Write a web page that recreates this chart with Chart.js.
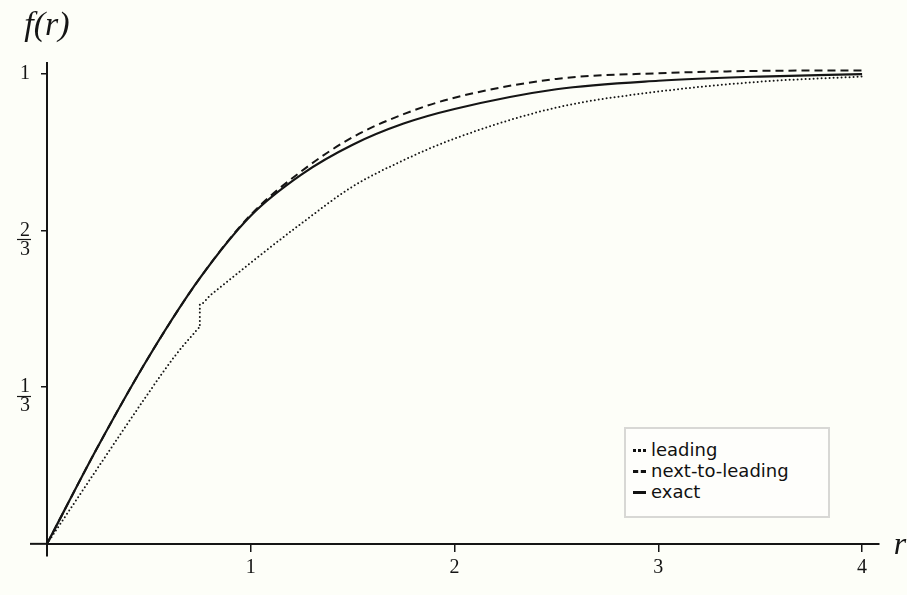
<!DOCTYPE html>
<html lang="en">

<head>
    <meta charset="UTF-8">
    <title>f(r)</title>
    <script src="https://cdn.jsdelivr.net/npm/chart.js@4"></script>
    <style>
        body {
            margin: 0;
            background: #fdfef8;
        }

        #wrap {
            position: relative;
            width: 907px;
            height: 595px;
        }

        #legend {
            position: absolute;
            left: 624px;
            top: 427px;
            width: 195px;
            height: 77px;
            padding: 10px 0 0 7px;
            border: 2px solid #d8d8d5;
            background: #fefefb;
            font-family: "DejaVu Sans";
            font-size: 18px;
            line-height: 21px;
            color: #111;
        }

        .smp {
            display: inline-block;
            width: 13px;
            height: 0;
            border-top: 3px solid #111;
            vertical-align: middle;
            margin-right: 5px;
            position: relative;
            top: -1px;
        }
    </style>
</head>

<body>
    <div id="wrap">
        <canvas id="chart" width="907" height="595"></canvas>
        <div id="legend"></div>
    </div>

    <script>
        // data
        const rLeading = [0, 0.25, 0.5, 0.625, 0.72, 0.75, 0.75, 0.8, 0.9, 1, 1.25, 1.5, 1.75, 2, 2.5, 3, 3.5, 4];
        const fLeading = [0, 0.162, 0.322, 0.398, 0.447, 0.46, 0.509, 0.528, 0.563, 0.598, 0.682, 0.76, 0.816, 0.862, 0.928, 0.962, 0.983, 0.994];

        const rNext = [0, 0.25, 0.5, 0.75, 1, 1.25, 1.5, 1.75, 2, 2.5, 3, 3.5, 4];
        const fNext = [0, 0.207, 0.398, 0.565, 0.70, 0.793, 0.865, 0.914, 0.949, 0.989, 1.001, 1.006, 1.007];

        const rExact = [0, 0.25, 0.5, 0.75, 1, 1.25, 1.5, 1.75, 2, 2.5, 3, 3.5, 4];
        const fExact = [0, 0.207, 0.398, 0.565, 0.698, 0.786, 0.849, 0.894, 0.925, 0.967, 0.985, 0.994, 0.999];

        const seriesNames = ['leading', 'next-to-leading', 'exact'];
        const xTicks = [1, 2, 3, 4];
        const yTicks = [1 / 3, 2 / 3, 1];
        const yTickLabels = [['', '1', '3'], ['', '2', '3'], '1'];

        const ink = '#151515';

        function points(rs, fs) {
            return rs.map((r, i) => ({ x: r, y: fs[i] }));
        }

        // axis names, fraction bars and the bit of r-axis left of the origin
        const axisDecor = {
            id: 'axisDecor',
            afterDraw(chart) {
                const { ctx, scales: { x, y } } = chart;
                ctx.save();
                ctx.fillStyle = ink;
                ctx.font = 'italic 34px "Liberation Serif"';
                ctx.textAlign = 'center';
                ctx.textBaseline = 'middle';
                ctx.fillText('f(r)', 47, 26);
                ctx.font = 'italic 32px "Liberation Serif"';
                ctx.fillText('r', 900, 546);

                ctx.strokeStyle = ink;
                ctx.lineWidth = 1.2;
                yTicks.forEach((v, i) => {
                    if (!Array.isArray(yTickLabels[i])) return;
                    const py = Math.round(y.getPixelForValue(v) + 9) + 0.5;
                    const right = y.right - 6 - 11;
                    ctx.beginPath();
                    ctx.moveTo(right - 13, py);
                    ctx.lineTo(right + 1, py);
                    ctx.stroke();
                });

                const x0 = x.getPixelForValue(0);
                const y0 = y.getPixelForValue(0);
                ctx.lineWidth = 2;
                ctx.beginPath();
                ctx.moveTo(x0 - 17, y0);
                ctx.lineTo(x0, y0);
                ctx.stroke();
                ctx.restore();
            }
        };

        const config = {
            type: 'scatter',
            data: {
                datasets: [{
                    label: seriesNames[0],
                    data: points(rLeading, fLeading),
                    showLine: true,
                    borderColor: ink,
                    borderWidth: 2,
                    borderDash: [0, 4],
                    borderCapStyle: 'round',
                    pointRadius: 0,
                    cubicInterpolationMode: 'monotone',
                }, {
                    label: seriesNames[1],
                    data: points(rNext, fNext),
                    showLine: true,
                    borderColor: ink,
                    borderWidth: 2,
                    borderDash: [8, 5],
                    pointRadius: 0,
                    cubicInterpolationMode: 'monotone',
                }, {
                    label: seriesNames[2],
                    data: points(rExact, fExact),
                    showLine: true,
                    borderColor: ink,
                    borderWidth: 2.2,
                    pointRadius: 0,
                    cubicInterpolationMode: 'monotone',
                }]
            },
            options: {
                responsive: false,
                animation: false,
                layout: {
                    padding: { left: 0, right: 28, top: 63, bottom: 26 }
                },
                scales: {
                    x: {
                        type: 'linear',
                        position: { y: 0 },
                        min: 0,
                        max: 4.083,
                        afterBuildTicks: (scale) => {
                            scale.ticks = xTicks.map(v => ({ value: v }));
                        },
                        ticks: {
                            color: ink,
                            padding: 5,
                            font: { family: 'Liberation Serif', size: 20 },
                            callback: (v) => String(v)
                        },
                        grid: {
                            drawOnChartArea: false,
                            drawTicks: true,
                            tickLength: 7,
                            color: ink,
                            lineWidth: 1.5
                        },
                        border: { display: true, color: ink, width: 2 }
                    },
                    y: {
                        type: 'linear',
                        position: 'left',
                        min: -0.0248,
                        max: 1.0228,
                        afterFit: (scale) => {
                            scale.width = 47;
                        },
                        afterBuildTicks: (scale) => {
                            scale.ticks = yTicks.map(v => ({ value: v }));
                        },
                        ticks: {
                            color: ink,
                            padding: 11,
                            font: { family: 'Liberation Serif', size: 20, lineHeight: '19px' },
                            callback: (v, i) => yTickLabels[i]
                        },
                        grid: {
                            drawOnChartArea: false,
                            drawTicks: true,
                            tickLength: 6,
                            color: ink,
                            lineWidth: 1.5
                        },
                        border: { display: true, color: ink, width: 2 }
                    }
                },
                plugins: {
                    legend: { display: false },
                    tooltip: { enabled: false }
                }
            },
            plugins: [axisDecor]
        };

        new Chart(document.getElementById('chart'), config);

        // legend box
        const legendStyles = ['dotted', 'dashed', 'solid'];
        document.getElementById('legend').innerHTML = seriesNames.map((name, i) =>
            '<div><span class="smp" style="border-top-style:' + legendStyles[i] + '"></span>' + name + '</div>'
        ).join('');
    </script>
</body>

</html>
